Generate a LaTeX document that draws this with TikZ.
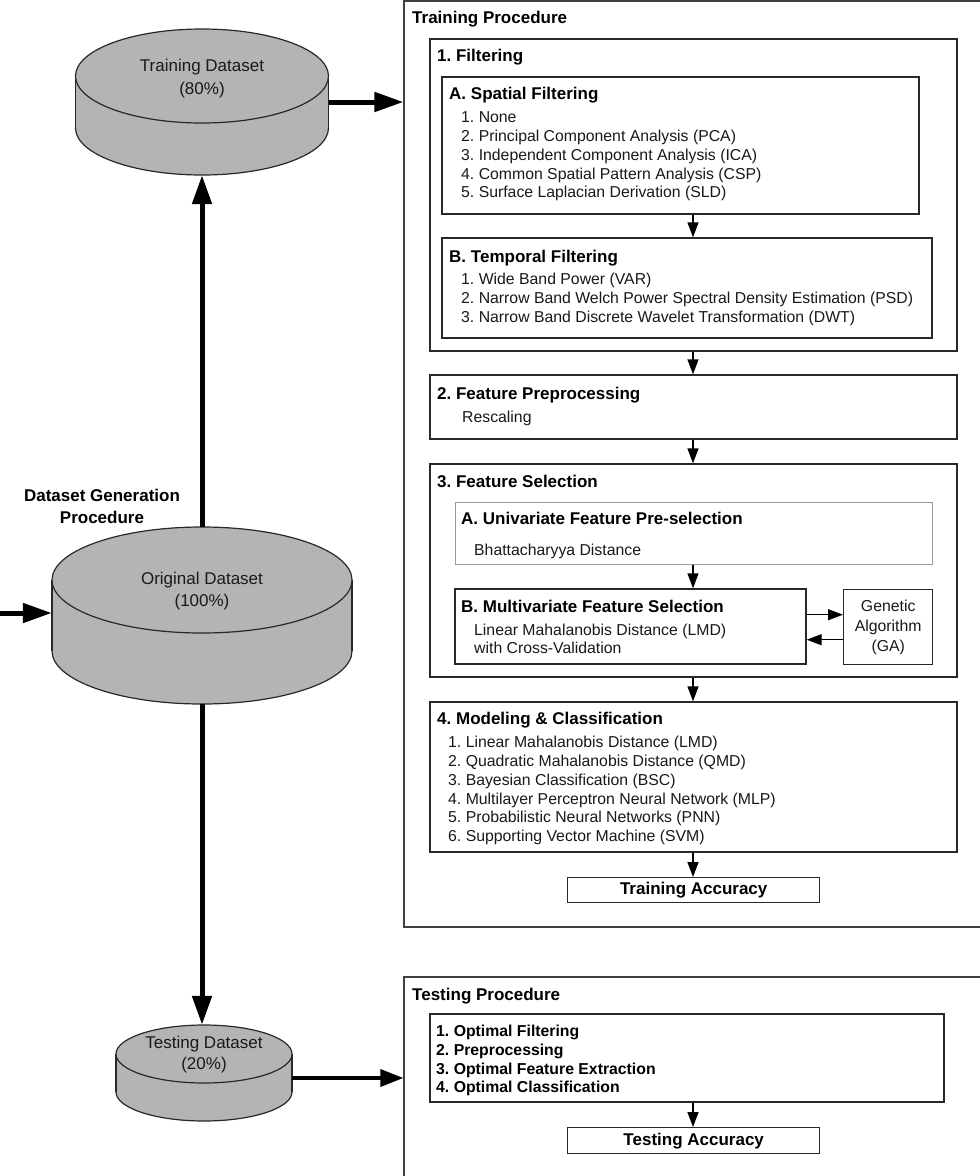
\documentclass[tikz,border=0pt]{standalone}
\usepackage{fontspec}
\setmainfont{Liberation Sans}
\usetikzlibrary{arrows.meta,fit}
\frenchspacing
\newcommand\fTitle{\fontsize{17}{20}\selectfont\bfseries}
\newcommand\fItem{\fontsize{15.8}{19}\selectfont}
\newcommand\fItemB{\fontsize{15.8}{19}\selectfont\bfseries}
\newcommand\fCyl{\fontsize{17}{21}\selectfont}
\definecolor{cylgray}{RGB}{180,180,180}
\definecolor{linegray}{RGB}{40,40,40}
\definecolor{txtgray}{RGB}{25,25,25}
\newcommand\drawcyl[5]{% cx, ytop, ybot, rx, ry
  \fill[cylgray] (#1-#4,#2) rectangle (#1+#4,#3);
  \fill[cylgray] (#1,#3) ellipse[x radius=#4, y radius=#5];
  \draw[cylline] (#1-#4,#2) -- (#1-#4,#3);
  \draw[cylline] (#1+#4,#2) -- (#1+#4,#3);
  \begin{scope}
    \clip (#1-#4-3,#3) rectangle (#1+#4+3,#3+#5+3);
    \draw[cylline] (#1,#3) ellipse[x radius=#4, y radius=#5];
  \end{scope}
  \draw[cylline, fill=cylgray] (#1,#2) ellipse[x radius=#4, y radius=#5];
}
\begin{document}
\begin{tikzpicture}[x=1pt,y=-1pt,
  cylline/.style={draw=linegray, line width=1.2pt},
  box/.style={draw=linegray, line width=1.4pt, inner sep=0pt},
  lightbox/.style={draw=black!40, line width=1pt, inner sep=0pt},
  outerbox/.style={draw=black!75, line width=1.2pt, inner sep=0pt},
  hole/.style={inner sep=0pt},
  ttl/.style={anchor=base west, inner sep=0pt, font=\fTitle, text=black},
  item/.style={anchor=base west, inner sep=0pt, font=\fItem, text=txtgray},
  itemb/.style={anchor=base west, inner sep=0pt, font=\fItemB, text=black},
  cyltxt/.style={anchor=base, inner sep=0pt, font=\fCyl, text=black!90},
  thin/.style={-{Triangle[length=15pt,width=11pt]}, line width=1.4pt, draw=black},
  thick/.style={-{Triangle[length=29pt,width=19pt]}, line width=5pt, draw=black},
  mid/.style={-{Triangle[length=23pt,width=17pt]}, line width=3.5pt, draw=black}
]
\useasboundingbox (0,0) rectangle (980,1176);
\clip (0,0) rectangle (980,1176);
\fill[white] (0,0) rectangle (980,1176);

% ---------- cylinders ----------
\drawcyl{202}{76}{128}{126.5}{47}
\node[hole, fit={(75.5,29) (328.5,175)}] (tcyl) {};
\node[cyltxt] (tcyl1) at (202,71) {Training Dataset};
\node[cyltxt] (tcyl2) at (202,94) {(80\%)};

\drawcyl{202}{580}{651}{150}{53}
\node[hole, fit={(52,527) (352,704)}] (ocyl) {};
\node[cyltxt] (ocyl1) at (202,584) {Original Dataset};
\node[cyltxt] (ocyl2) at (202,606) {(100\%)};

\drawcyl{204}{1054}{1092}{88}{29}
\node[hole, fit={(116,1025) (292,1121)}] (scyl) {};
\node[cyltxt] (scyl1) at (204,1048) {Testing Dataset};
\node[cyltxt] (scyl2) at (204,1069) {(20\%)};

\node[anchor=base, inner sep=0pt, font=\fTitle] (dg1) at (102,501) {Dataset Generation};
\node[anchor=base, inner sep=0pt, font=\fTitle] (dg2) at (102,523) {Procedure};

% ---------- training procedure ----------
\node[outerbox, fit={(404,1) (995,927)}] (trainproc) {};
\node[ttl] (trainttl) at (412,23) {Training Procedure};

\node[box, fit={(430,39) (957,351)}] (filt) {};
\node[ttl] (filtttl) at (437,61) {1. Filtering};

\node[box, fit={(442,77) (919,214)}] (spat) {};
\node[ttl] (spatttl) at (449,99) {A. Spatial Filtering};
\foreach \t [count=\i] in {1. None, 2. Principal Component Analysis (PCA), 3. Independent Component Analysis (ICA), 4. Common Spatial Pattern Analysis (CSP), 5. Surface Laplacian Derivation (SLD)}
  \node[item] (sp\i) at (461,{122.6+18.8*(\i-1)}) {\t};

\node[box, fit={(442,238) (932,338)}] (temp) {};
\node[ttl] (tempttl) at (449,262) {B. Temporal Filtering};
\foreach \t [count=\i] in {1. Wide Band Power (VAR), 2. Narrow Band Welch Power Spectral Density Estimation (PSD), 3. Narrow Band Discrete Wavelet Transformation (DWT)}
  \node[item] (tp\i) at (461,{284.6+19*(\i-1)}) {\t};

\node[box, fit={(430,375) (957,439)}] (prep) {};
\node[ttl] (prepttl) at (437,399) {2. Feature Preprocessing};
\node[item] (prep1) at (462,422.6) {Rescaling};

\node[box, fit={(430,464) (957,677)}] (fsel) {};
\node[ttl] (fselttl) at (437,487) {3. Feature Selection};

\node[lightbox, fit={(455,502) (932,564)}] (univ) {};
\node[ttl] (univttl) at (461,524) {A. Univariate Feature Pre-selection};
\node[item] (univ1) at (474,555.6) {Bhattacharyya Distance};

\node[box, fit={(455,589) (806,664)}] (multi) {};
\node[ttl] (multittl) at (461,612) {B. Multivariate Feature Selection};
\node[item] (multi1) at (474,635.6) {Linear Mahalanobis Distance (LMD)};
\node[item] (multi2) at (474,653.6) {with Cross-Validation};

\node[box, minimum width=89pt, minimum height=75pt, anchor=north west, align=center,
      font=\fontsize{15.8}{20}\selectfont, text=txtgray] (ga) at (843,589) {Genetic\\Algorithm\\(GA)};

\node[box, fit={(430,702) (957,852)}] (model) {};
\node[ttl] (modelttl) at (437,724) {4. Modeling \& Classification};
\foreach \t [count=\i] in {1. Linear Mahalanobis Distance (LMD), 2. Quadratic Mahalanobis Distance (QMD), 3. Bayesian Classification (BSC), 4. Multilayer Perceptron Neural Network (MLP), 5. Probabilistic Neural Networks (PNN), 6. Supporting Vector Machine (SVM)}
  \node[item] (md\i) at (448,{747.6+18.8*(\i-1)}) {\t};

\node[box, minimum width=252pt, minimum height=25pt, anchor=north west, font=\fTitle] (tracc) at (567,877) {Training Accuracy};

% ---------- testing procedure ----------
\node[outerbox, fit={(404,977) (995,1195)}] (testproc) {};
\node[ttl] (testttl) at (412,1000) {Testing Procedure};
\node[box, fit={(430,1014) (944,1102)}] (opt) {};
\foreach \t [count=\i] in {1. Optimal Filtering, 2. Preprocessing, 3. Optimal Feature Extraction, 4. Optimal Classification}
  \node[itemb] (op\i) at (436,{1036.6+18.7*(\i-1)}) {\t};
\node[box, minimum width=252pt, minimum height=26pt, anchor=north west, font=\fTitle] (teacc) at (567,1127) {Testing Accuracy};

% ---------- connectors ----------
\coordinate (col) at (693,0);
\coordinate (inL) at (0,613);
\coordinate (sA) at ([yshift=-5pt]scyl.east);
\coordinate (gaA) at ([yshift=12.5pt]ga.west);
\coordinate (gaB) at ([yshift=-12.5pt]ga.west);
\draw[thin] (spat.south -| col) -- (temp.north -| col);
\draw[thin] (filt.south -| col) -- (prep.north -| col);
\draw[thin] (prep.south -| col) -- (fsel.north -| col);
\draw[thin] (univ.south -| col) -- (multi.north -| col);
\draw[thin] (fsel.south -| col) -- (model.north -| col);
\draw[thin] (model.south -| col) -- (tracc.north -| col);
\draw[thin] (opt.south -| col) -- (teacc.north -| col);
\draw[thin] (multi.east |- gaA) -- (gaA);
\draw[thin] (gaB) -- (multi.east |- gaB);

\draw[thick] (ocyl.north) -- (tcyl.south);
\draw[thick] (ocyl.south) -- (ocyl.south |- scyl.north);
\draw[thick] (tcyl.east) -- (trainproc.west |- tcyl.east);
\draw[thick] (inL) -- (ocyl.west |- inL);
\draw[mid] (sA) -- (testproc.west |- sA);
\end{tikzpicture}
\end{document}
